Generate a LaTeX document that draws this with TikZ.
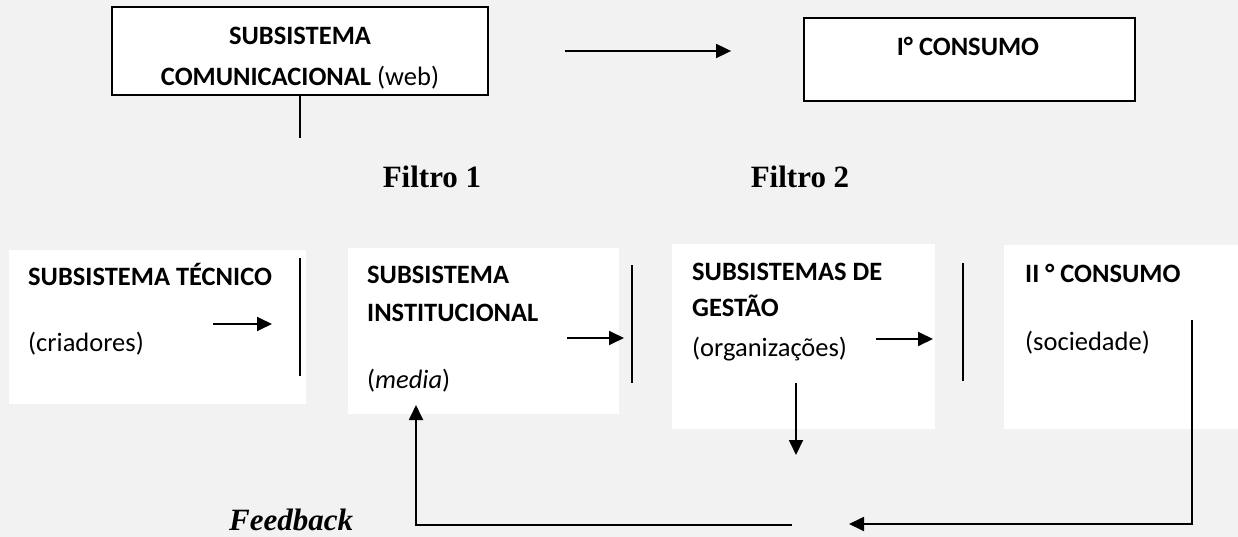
\documentclass[tikz,border=0pt]{standalone}
\usepackage{fontspec}
\setmainfont{Carlito}
\newfontfamily\serifb{Liberation Serif}
\usetikzlibrary{arrows.meta,positioning}
\definecolor{fundo}{HTML}{F2F2F2}

\begin{document}
\begin{tikzpicture}[x=1pt,y=-1pt,
  every node/.style={font=\fontsize{26.5}{32}\selectfont},
  topbox/.style={draw,fill=white,line width=1.8pt,inner sep=0pt},
  subbox/.style={fill=white,inner sep=0pt},
  txt/.style={anchor=base west,inner sep=0pt},
  filtro/.style={anchor=base,inner sep=0pt,font=\serifb\bfseries\fontsize{31}{36}\selectfont},
  seta/.style={-{Triangle[length=15pt,width=14pt]},line width=1.8pt},
  linha/.style={line width=1.8pt}]
            \fill[fundo] (0,0) rectangle (1238,537);
            \useasboundingbox (0,0) rectangle (1238,537);

            \node[topbox,minimum width=376pt,minimum height=88pt] (com) at (300,51) {};
            \node[txt,anchor=base] (com1) at (300,44.5) {\textbf{SUBSISTEMA}};
            \node[txt,anchor=base] (com2) at (300,85.5) {\textbf{COMUNICACIONAL} (web)};

            \node[topbox,minimum width=331pt,minimum height=83pt] (cons1) at (969.5,59.5) {};
            \node[txt,anchor=base] (cons1t) at (968,55.5) {\textbf{I° CONSUMO}};

            \node[filtro] (f1) at (432,188) {Filtro 1};
            \node[filtro] (f2) at (800,188) {Filtro 2};

            \node[subbox,minimum width=297pt,minimum height=154pt] (tec) at (157.5,327) {};
            \node[txt] (tec1) at (28,285) {\textbf{SUBSISTEMA TÉCNICO}};
            \node[txt] (tec2) at (28,351) {(criadores)};

            \node[subbox,minimum width=271pt,minimum height=166pt] (inst) at (483.5,331) {};
            \node[txt] (inst1) at (367,283.5) {\textbf{SUBSISTEMA}};
            \node[txt] (inst2) at (367,321.5) {\textbf{INSTITUCIONAL}};
            \node[txt] (inst3) at (367,388) {(\textit{media})};

            \node[subbox,minimum width=263pt,minimum height=185pt] (ges) at (803.5,336.5) {};
            \node[txt] (ges1) at (692,280.5) {\textbf{SUBSISTEMAS DE}};
            \node[txt] (ges2) at (692,316.5) {\textbf{GESTÃO}};
            \node[txt] (ges3) at (692,356) {(organizações)};

            \node[subbox,minimum width=234pt,minimum height=184pt] (cons2) at (1121,337) {};
            \node[txt] (cons21) at (1025,282) {\textbf{II ° CONSUMO}};
            \node[txt] (cons22) at (1025,350) {(sociedade)};

            \node[filtro,anchor=base west,font=\serifb\bfseries\itshape\fontsize{31}{36}\selectfont] (fb) at (229,530) {Feedback};

            \coordinate (a1) at (213,324);
            \coordinate (a2) at (272,324);
            \coordinate (b1) at (567,338);
            \coordinate (b2) at (624,338);
            \coordinate (c1) at (876,339);
            \coordinate (c2) at (933,339);
            \coordinate (d1) at (796,383);
            \coordinate (d2) at (796,455);
            \coordinate (e1) at (1192,320);
            \coordinate (e2) at (849,524);
            \coordinate (g1) at (792,525);
            \coordinate (g2) at (416,405);

            \draw[linha] (com.south) -- ++(0,42);
            \draw[seta] ([xshift=76pt]com.east) -- ([xshift=-72pt]cons1.west |- com.east);
            \draw[linha] (300,258) -- (300,376);
            \draw[linha] (632,265) -- (632,383);
            \draw[linha] (963,263) -- (963,381);
            \draw[seta] (a1) -- (a2);
            \draw[seta] (b1) -- (b2);
            \draw[seta] (c1) -- (c2);
            \draw[seta] (d1) -- (d2);
            \draw[seta] (e1) |- (e2);
            \draw[seta] (g1) -| (g2);
          \end{tikzpicture}
\end{document}
